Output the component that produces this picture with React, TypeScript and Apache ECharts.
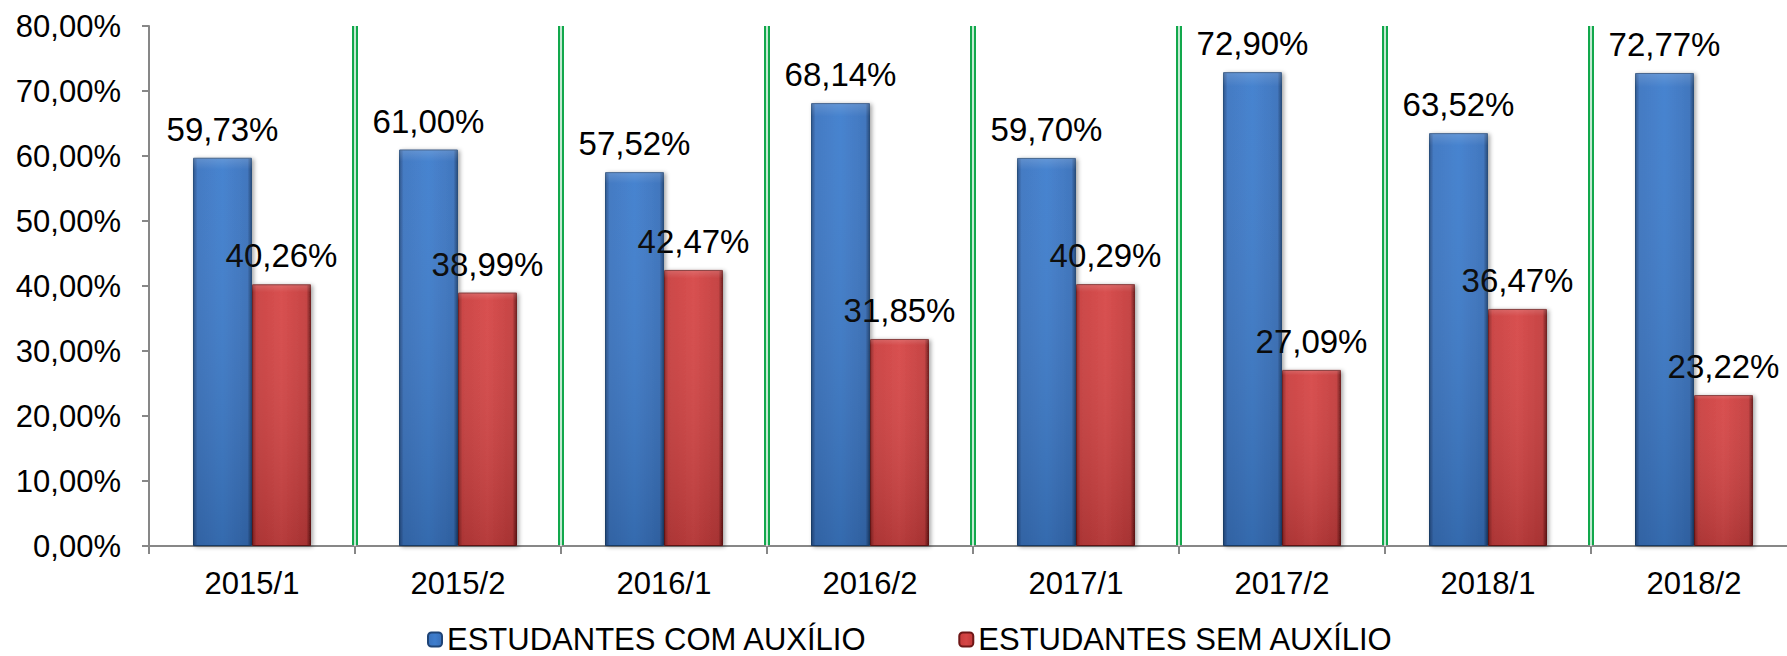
import React, { useEffect, useRef } from "react";
import * as echarts from "echarts";

const categories = ["2015/1", "2015/2", "2016/1", "2016/2", "2017/1", "2017/2", "2018/1", "2018/2"];
const comAuxilio = [59.73, 61.0, 57.52, 68.14, 59.7, 72.9, 63.52, 72.77];
const semAuxilio = [40.26, 38.99, 42.47, 31.85, 40.29, 27.09, 36.47, 23.22];
const seriesNames = ["ESTUDANTES COM AUXÍLIO", "ESTUDANTES SEM AUXÍLIO"];
const yTicks = { min: 0, max: 80, interval: 10 };

const FONT = "Liberation Sans, Arial, sans-serif";
const fmt = (v: number) => v.toFixed(2).replace(".", ",") + "%";

const hGrad = (stops: [number, string][]) =>
  new echarts.graphic.LinearGradient(
    0,
    0,
    1,
    0,
    stops.map(([offset, color]) => ({ offset, color }))
  );

const blueFill = hGrad([
  [0, "#264f88"],
  [0.07, "#3a74c0"],
  [0.5, "#3e7dcd"],
  [0.93, "#3870bb"],
  [1, "#1f4476"],
]);
const redFill = hGrad([
  [0, "#8e2424"],
  [0.07, "#c93e3e"],
  [0.5, "#d64646"],
  [0.93, "#c33b3b"],
  [1, "#6e1717"],
]);
const shade = new echarts.graphic.LinearGradient(0, 0, 0, 1, [
  { offset: 0, color: "rgba(255,255,255,0.2)" },
  { offset: 0.03, color: "rgba(255,255,255,0.05)" },
  { offset: 1, color: "rgba(0,0,0,0.15)" },
]);

export default function App() {
  const ref = useRef<HTMLDivElement>(null);
  useEffect(() => {
    if (!ref.current) return;
    const chart = echarts.init(ref.current, null, { renderer: "svg" });
    const labelCfg = {
      show: true,
      position: "top",
      distance: 12,
      color: "#000",
      fontFamily: FONT,
      fontSize: 33,
      formatter: (p: any) => fmt(p.value),
    };
    const barShadow = {
      shadowColor: "rgba(0,0,0,0.35)",
      shadowBlur: 4,
      shadowOffsetX: 2,
      shadowOffsetY: 1,
    };
    chart.setOption({
      animation: false,
      backgroundColor: "#fff",
      textStyle: { fontFamily: FONT },
      grid: { left: 149, right: 0, top: 26, bottom: 110, containLabel: false },
      legend: {
        data: seriesNames,
        left: 422,
        top: 619,
        itemWidth: 14,
        itemHeight: 14,
        itemGap: 91,
        textStyle: { fontFamily: FONT, fontSize: 31, lineHeight: 30, color: "#000" },
      },
      xAxis: [
        {
          type: "category",
          data: categories,
          axisLine: { lineStyle: { color: "#878787", width: 2 } },
          axisTick: { show: true, interval: 0, length: 8, lineStyle: { color: "#878787", width: 2 } },
          axisLabel: { color: "#000", fontFamily: FONT, fontSize: 31, margin: 22, interval: 0 },
          splitLine: {
            show: true,
            interval: 0,
            showMinLine: false,
            showMaxLine: false,
            lineStyle: { color: "#12a84c", width: 6 },
          },
          z: 1,
        },
        {
          type: "category",
          data: categories,
          position: "bottom",
          axisLine: { show: false },
          axisTick: { show: false },
          axisLabel: { show: false },
          splitLine: {
            show: true,
            interval: 0,
            showMinLine: false,
            showMaxLine: false,
            lineStyle: { color: "#ffffff", width: 1.5 },
          },
          z: 2,
        },
      ],
      yAxis: {
        type: "value",
        min: yTicks.min,
        max: yTicks.max,
        interval: yTicks.interval,
        axisLine: { show: true, lineStyle: { color: "#878787", width: 2 } },
        axisTick: { show: true, length: 7, lineStyle: { color: "#878787", width: 2 } },
        axisLabel: { color: "#000", fontFamily: FONT, fontSize: 31, margin: 28, formatter: (v: number) => fmt(v) },
        splitLine: { show: false },
      },
      series: [
        {
          name: seriesNames[0],
          type: "bar",
          xAxisIndex: 0,
          data: comAuxilio,
          barWidth: 59,
          barGap: "0%",
          itemStyle: { color: blueFill, borderColor: "#1f4476", borderWidth: 1, ...barShadow },
          label: labelCfg,
          z: 3,
        },
        {
          name: seriesNames[1],
          type: "bar",
          xAxisIndex: 0,
          data: semAuxilio,
          barWidth: 59,
          barGap: "0%",
          itemStyle: { color: redFill, borderColor: "#6e1717", borderWidth: 1, ...barShadow },
          label: labelCfg,
          z: 3,
        },
        {
          name: "shade1",
          type: "bar",
          xAxisIndex: 1,
          data: comAuxilio,
          barWidth: 59,
          barGap: "0%",
          silent: true,
          itemStyle: { color: shade },
          z: 4,
        },
        {
          name: "shade2",
          type: "bar",
          xAxisIndex: 1,
          data: semAuxilio,
          barWidth: 59,
          barGap: "0%",
          silent: true,
          itemStyle: { color: shade },
          z: 4,
        },
      ],
    });
    return () => chart.dispose();
  }, []);
  return (
    <div
      ref={ref}
      style={{ position: "fixed", left: 0, top: 0, width: 1797, height: 656 }}
    />
  );
}
